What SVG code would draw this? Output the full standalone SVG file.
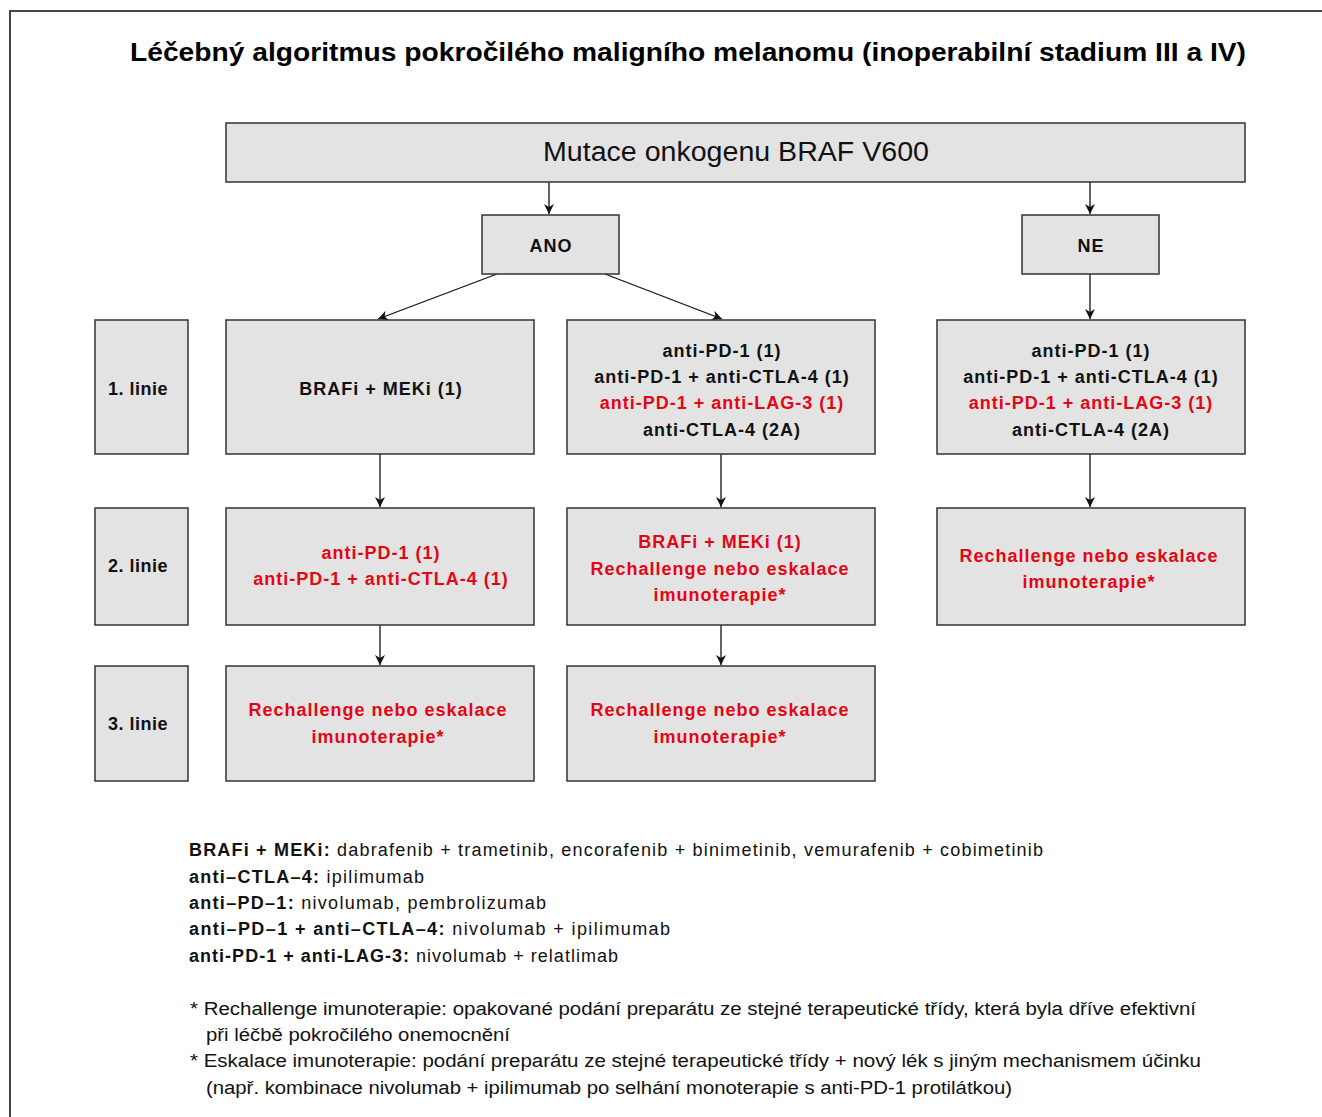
<svg xmlns="http://www.w3.org/2000/svg" width="1322" height="1117" viewBox="0 0 1322 1117">
<style>
.box{fill:#e3e3e3;stroke:#333;stroke-width:1.5}
.t{font-family:"Liberation Sans",Arial,sans-serif;font-weight:bold;font-size:18px;fill:#111;text-anchor:middle;letter-spacing:1px}
.lb{letter-spacing:0.5px}
.r{fill:#e30613}
.lg{font-family:"Liberation Sans",Arial,sans-serif;font-size:18px;fill:#111}
.b{font-weight:bold}
.fn{font-family:"Liberation Sans",Arial,sans-serif;font-size:18px;fill:#111}
.c{stroke:#111;stroke-width:1.3;fill:none;marker-end:url(#ah)}
</style>
<defs>
<marker id="ah" viewBox="0 0 10 10" refX="10" refY="5" markerWidth="10" markerHeight="10" markerUnits="userSpaceOnUse" orient="auto">
<path d="M0,0 L10,5 L0,10 L3,5 z" fill="#111"/>
</marker>
</defs>
<rect width="1322" height="1117" fill="#fff"/>
<path d="M10,1117 V11 H1322" fill="none" stroke="#444" stroke-width="2"/>
<text x="688" y="61" font-family="'Liberation Sans',Arial,sans-serif" font-weight="bold" font-size="25" text-anchor="middle" textLength="1116" lengthAdjust="spacingAndGlyphs" fill="#000">Léčebný algoritmus pokročilého maligního melanomu (inoperabilní stadium III a IV)</text>

<g id="connectors">
<line class="c" x1="549" y1="182" x2="549" y2="214"/>
<line class="c" x1="1090" y1="182" x2="1090" y2="214"/>
<line class="c" x1="497" y1="274" x2="378" y2="319"/>
<line class="c" x1="605" y1="274" x2="722" y2="319"/>
<line class="c" x1="1090" y1="274" x2="1090" y2="319"/>
<line class="c" x1="380" y1="454" x2="380" y2="507"/>
<line class="c" x1="721" y1="454" x2="721" y2="507"/>
<line class="c" x1="1090" y1="454" x2="1090" y2="507"/>
<line class="c" x1="380" y1="625" x2="380" y2="665"/>
<line class="c" x1="721" y1="625" x2="721" y2="665"/>
</g>

<g id="root"><rect class="box" x="226" y="123" width="1019" height="59"/>
<text x="736" y="161" font-family="'Liberation Sans',Arial,sans-serif" font-size="27" text-anchor="middle" textLength="386" lengthAdjust="spacingAndGlyphs" fill="#111">Mutace onkogenu BRAF V600</text></g>
<g id="ano"><rect class="box" x="482" y="215" width="137" height="59"/><text class="t" x="551" y="252">ANO</text></g>
<g id="ne"><rect class="box" x="1022" y="215" width="137" height="59"/><text class="t" x="1091" y="252">NE</text></g>

<g id="l1"><rect class="box" x="95" y="320" width="93" height="134"/><text class="t lb" x="138" y="395">1. linie</text></g>
<g id="l2"><rect class="box" x="95" y="508" width="93" height="117"/><text class="t lb" x="138" y="572">2. linie</text></g>
<g id="l3"><rect class="box" x="95" y="666" width="93" height="115"/><text class="t lb" x="138" y="730">3. linie</text></g>

<g id="a1"><rect class="box" x="226" y="320" width="308" height="134"/><text class="t" x="381" y="395">BRAFi + MEKi (1)</text></g>
<g id="b1"><rect class="box" x="567" y="320" width="308" height="134"/>
<text class="t" x="722" y="357">anti-PD-1 (1)</text>
<text class="t" x="722" y="383">anti-PD-1 + anti-CTLA-4 (1)</text>
<text class="t r" x="722" y="409">anti-PD-1 + anti-LAG-3 (1)</text>
<text class="t" x="722" y="436">anti-CTLA-4 (2A)</text></g>
<g id="c1"><rect class="box" x="937" y="320" width="308" height="134"/>
<text class="t" x="1091" y="357">anti-PD-1 (1)</text>
<text class="t" x="1091" y="383">anti-PD-1 + anti-CTLA-4 (1)</text>
<text class="t r" x="1091" y="409">anti-PD-1 + anti-LAG-3 (1)</text>
<text class="t" x="1091" y="436">anti-CTLA-4 (2A)</text></g>

<g id="a2"><rect class="box" x="226" y="508" width="308" height="117"/>
<text class="t r" x="381" y="559">anti-PD-1 (1)</text>
<text class="t r" x="381" y="585">anti-PD-1 + anti-CTLA-4 (1)</text></g>
<g id="b2"><rect class="box" x="567" y="508" width="308" height="117"/>
<text class="t r" x="720" y="548">BRAFi + MEKi (1)</text>
<text class="t r" x="720" y="575">Rechallenge nebo eskalace</text>
<text class="t r" x="720" y="601">imunoterapie*</text></g>
<g id="c2"><rect class="box" x="937" y="508" width="308" height="117"/>
<text class="t r" x="1089" y="562">Rechallenge nebo eskalace</text>
<text class="t r" x="1089" y="588">imunoterapie*</text></g>

<g id="a3"><rect class="box" x="226" y="666" width="308" height="115"/>
<text class="t r" x="378" y="716">Rechallenge nebo eskalace</text>
<text class="t r" x="378" y="743">imunoterapie*</text></g>
<g id="b3"><rect class="box" x="567" y="666" width="308" height="115"/>
<text class="t r" x="720" y="716">Rechallenge nebo eskalace</text>
<text class="t r" x="720" y="743">imunoterapie*</text></g>

<g id="legend">
<text class="lg" x="189" y="856" textLength="854"><tspan class="b">BRAFi + MEKi:</tspan> dabrafenib + trametinib, encorafenib + binimetinib, vemurafenib + cobimetinib</text>
<text class="lg" x="189" y="883" textLength="235"><tspan class="b">anti–CTLA–4:</tspan> ipilimumab</text>
<text class="lg" x="189" y="909" textLength="357"><tspan class="b">anti–PD–1:</tspan> nivolumab, pembrolizumab</text>
<text class="lg" x="189" y="935" textLength="481"><tspan class="b">anti–PD–1 + anti–CTLA–4:</tspan> nivolumab + ipilimumab</text>
<text class="lg" x="189" y="962" textLength="429"><tspan class="b">anti-PD-1 + anti-LAG-3:</tspan> nivolumab + relatlimab</text>
</g>
<g id="footnotes">
<text class="fn" x="190" y="1015" textLength="1006" lengthAdjust="spacingAndGlyphs">* Rechallenge imunoterapie: opakované podání preparátu ze stejné terapeutické třídy, která byla dříve efektivní</text>
<text class="fn" x="206" y="1041" textLength="304" lengthAdjust="spacingAndGlyphs">při léčbě pokročilého onemocnění</text>
<text class="fn" x="190" y="1067" textLength="1011" lengthAdjust="spacingAndGlyphs">* Eskalace imunoterapie: podání preparátu ze stejné terapeutické třídy + nový lék s jiným mechanismem účinku</text>
<text class="fn" x="206" y="1094" textLength="806" lengthAdjust="spacingAndGlyphs">(např. kombinace nivolumab + ipilimumab po selhání monoterapie s anti-PD-1 protilátkou)</text>
</g>
</svg>
